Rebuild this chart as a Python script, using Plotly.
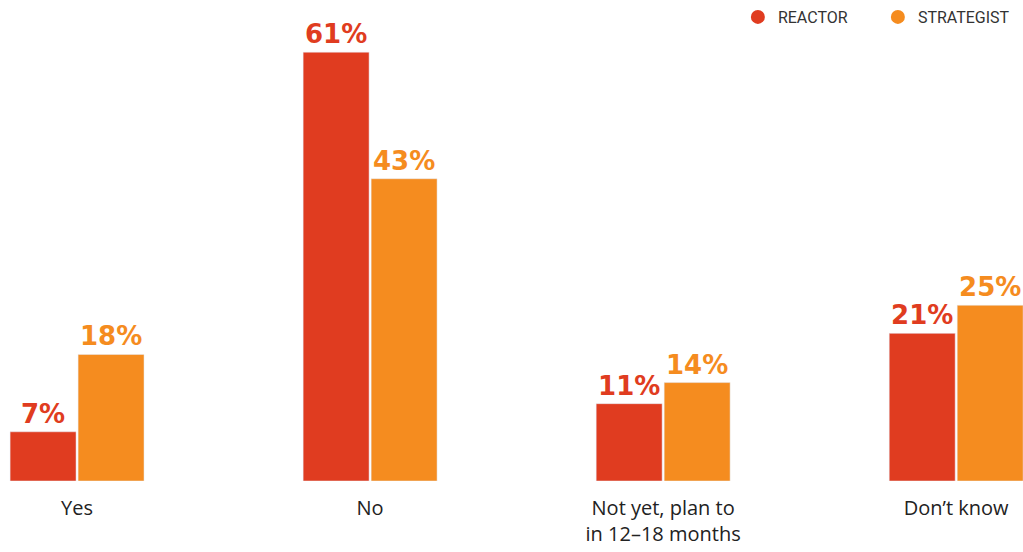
import plotly.graph_objects as go

categories = ["Yes", "No", "Not yet, plan to<br>in 12–18 months", "Don’t know"]
reactor = [7, 61, 11, 21]
strategist = [18, 43, 14, 25]
series_names = ["REACTOR", "STRATEGIST"]
colors = ["#E03C20", "#F58C1F"]

fig = go.Figure()
for name, vals, col in zip(series_names, [reactor, strategist], colors):
    fig.add_trace(go.Bar(
        x=categories, y=vals, name=name, marker_color=col, showlegend=False,
        text=[f"{v}%" for v in vals], textposition="outside",
        textfont=dict(family="DejaVu Sans", size=26, color=col, weight="bold"),
        constraintext="none", cliponaxis=False,
    ))
    fig.add_trace(go.Scatter(
        x=[None], y=[None], mode="markers", name=name,
        marker=dict(symbol="circle", size=14, color=col), showlegend=True,
    ))

fig.update_layout(
    width=1023, height=552,
    margin=dict(l=0, r=0, t=0, b=71),
    plot_bgcolor="white", paper_bgcolor="white",
    barmode="group", bargap=0.536, bargroupgap=0.03,
    legend=dict(orientation="h", x=0.995, xanchor="right", y=1.022, yanchor="top",
                font=dict(family="Roboto", size=16, color="#333"),
                itemwidth=30, entrywidth=95, bgcolor="rgba(0,0,0,0)"),
    xaxis=dict(range=[-0.263, 3.228], showgrid=False, zeroline=False, showline=False,
               ticks="", ticklabelstandoff=13,
               tickfont=dict(family="Open Sans", size=20, color="#222")),
    yaxis=dict(range=[0, 67.0], visible=False),
)

fig.write_html("out.html", config={"displayModeBar": False},
               post_script="document.body.style.margin='0';document.body.style.overflow='hidden';")
